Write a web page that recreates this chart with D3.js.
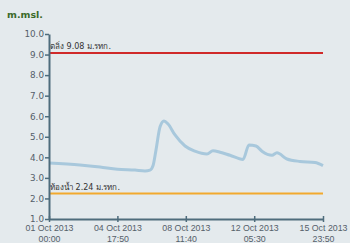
<!DOCTYPE html>
<html><head><meta charset="utf-8">
<script src="https://cdn.jsdelivr.net/npm/d3@7"></script>
<style>
html,body{margin:0;padding:0;background:#e4eaed;}
svg{display:block;font-family:"DejaVu Sans",Verdana,sans-serif;}
</style></head>
<body><svg id="c" width="350" height="243"></svg>
<script>
const times = ["2013-10-01 00:00","2013-10-02 16:40","2013-10-03 19:00","2013-10-04 17:50","2013-10-05 17:00","2013-10-06 06:00","2013-10-06 12:40","2013-10-06 16:40","2013-10-06 20:30","2013-10-07 01:50","2013-10-07 07:00","2013-10-07 12:20","2013-10-07 21:30","2013-10-08 10:40","2013-10-08 23:40","2013-10-09 15:30","2013-10-09 23:20","2013-10-10 08:40","2013-10-10 21:40","2013-10-11 14:50","2013-10-11 22:40","2013-10-12 07:50","2013-10-12 15:40","2013-10-13 04:50","2013-10-13 11:20","2013-10-14 00:30","2013-10-14 17:40","2013-10-15 13:20","2013-10-15 23:50"];
const levels = [3.72,3.63,3.53,3.42,3.38,3.34,3.38,3.6,4.35,5.49,5.77,5.62,5.09,4.55,4.3,4.16,4.32,4.25,4.1,3.9,4.6,4.55,4.3,4.1,4.22,3.92,3.8,3.75,3.6];
const yTicks = [1,2,3,4,5,6,7,8,9,10];
const xTickTimes = ["2013-10-01 00:00","2013-10-04 17:50","2013-10-08 11:40","2013-10-12 05:30","2013-10-15 23:50"];
const bankLevel = 9.08, bankLabel = "ตลิ่ง 9.08 ม.รทก.";
const bedLevel = 2.24, bedLabel = "ท้องน้ำ 2.24 ม.รทก.";
const unitLabel = "m.msl.";

const parse = d3.timeParse("%Y-%m-%d %H:%M");
const data = times.map((t,i)=>({t:parse(t), v:levels[i]}));
const svg = d3.select("#c");
const L=49, R=323, T=34, B=219;
const x = d3.scaleTime().domain([parse(times[0]), parse(times[times.length-1])]).range([L,R]);
const y = d3.scaleLinear().domain([1,10]).range([B,T]);

svg.append("text").attr("x",7).attr("y",18).attr("fill","#3b6a2a").attr("font-weight","bold").attr("font-size",9.5).text(unitLabel);

// thresholds
svg.append("line").attr("x1",L).attr("x2",R).attr("y1",y(bankLevel)).attr("y2",y(bankLevel)).attr("stroke","#d02a2a").attr("stroke-width",2);
svg.append("line").attr("x1",L).attr("x2",R).attr("y1",y(bedLevel)).attr("y2",y(bedLevel)).attr("stroke","#f2a92e").attr("stroke-width",2);
svg.append("text").attr("x",L+1).attr("y",y(bankLevel)-4).attr("font-size",8).attr("fill","#333").text(bankLabel);
svg.append("text").attr("x",L+1).attr("y",y(bedLevel)-4).attr("font-size",8).attr("fill","#333").text(bedLabel);

// series
svg.append("path").datum(data).attr("fill","none").attr("stroke","#a8c8dc").attr("stroke-width",3).attr("stroke-linejoin","round")
  .attr("d", d3.line().x(d=>x(d.t)).y(d=>y(d.v)).curve(d3.curveMonotoneX));

// axes
const axisCol = "#4e6c7c";
const ya = svg.append("g").attr("transform",`translate(${L},0)`).call(d3.axisLeft(y).tickValues(yTicks).tickFormat(d3.format(".1f")).tickSize(4).tickSizeOuter(0));
const xa = svg.append("g").attr("transform",`translate(0,${B})`).call(d3.axisBottom(x).tickValues(xTickTimes.map(parse)).tickSize(4).tickSizeOuter(0).tickFormat(""));
[ya,xa].forEach(g=>{
  g.select(".domain").attr("stroke",axisCol).attr("stroke-width",2);
  g.selectAll(".tick line").attr("stroke",axisCol).attr("stroke-width",1.5);
  g.selectAll("text").attr("fill","#55606a").attr("font-size",8.8).attr("font-family","DejaVu Sans, sans-serif");
});
ya.selectAll(".tick line").attr("x2",-4);
ya.selectAll(".tick text").attr("x",-5);
xa.selectAll(".tick line").attr("y1",-3).attr("y2",3);
const fmt1 = d3.timeFormat("%d %b %Y"), fmt2 = d3.timeFormat("%H:%M");
xa.selectAll(".tick").each(function(d){
  const g=d3.select(this);
  g.append("text").attr("y",12).attr("text-anchor","middle").attr("fill","#55606a").attr("font-size",8.8).text(fmt1(d));
  g.append("text").attr("y",22.5).attr("text-anchor","middle").attr("fill","#55606a").attr("font-size",8.8).text(fmt2(d));
});
</script></body></html>
